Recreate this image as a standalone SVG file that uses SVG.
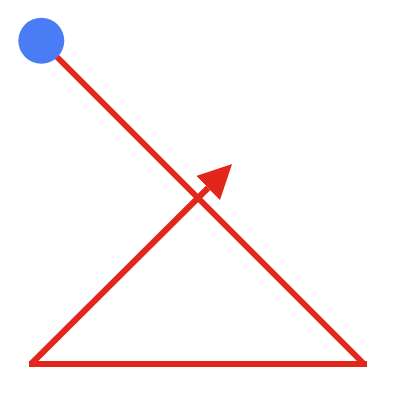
<svg xmlns="http://www.w3.org/2000/svg" width="402" height="412" viewBox="0 0 402 412">
<style>
.ln{fill:none;stroke:#e3261b;stroke-width:6;stroke-linecap:butt;stroke-linejoin:miter}
</style>
<defs>
<marker id="ah" markerUnits="userSpaceOnUse" markerWidth="34" markerHeight="34" refX="0" refY="17" orient="auto" viewBox="0 0 34 34">
<path d="M0,0 L34,17 L0,34 Z" fill="#e3261b"/>
</marker>
</defs>
<rect width="402" height="412" fill="#ffffff"/>
<g id="connectors">
<path class="ln" d="M41,41 L364,364"/>
<path class="ln" d="M367,364 L29,364"/>
<path class="ln" d="M31,364 L208,188" marker-end="url(#ah)"/>
</g>
<g id="node-start">
<circle cx="41.3" cy="40.7" r="23" fill="#4a7cf5"/>
</g>
</svg>
